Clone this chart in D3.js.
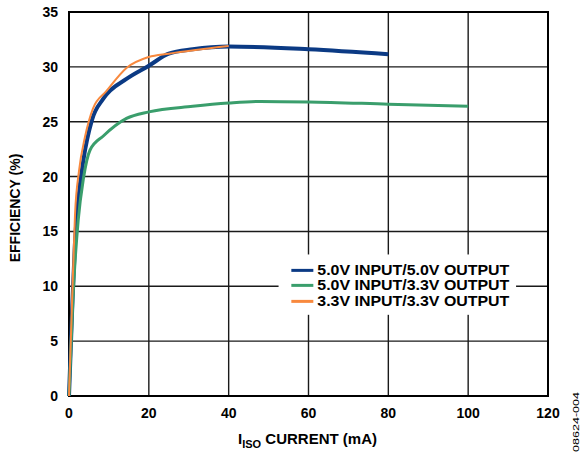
<!DOCTYPE html>
<html>
<head>
<meta charset="utf-8">
<script src="https://cdn.jsdelivr.net/npm/d3@7"></script>
<style>
  body { margin: 0; background: #fff; }
  svg text { font-family: "Liberation Sans", Arial, sans-serif; font-weight: bold; fill: #000; }
</style>
</head>
<body>
<div id="chart"></div>
<script>
// data
var xTicks = [0, 20, 40, 60, 80, 100, 120];
var yTicks = [0, 5, 10, 15, 20, 25, 30, 35];

var seriesNames = ["5.0V INPUT/5.0V OUTPUT", "5.0V INPUT/3.3V OUTPUT", "3.3V INPUT/3.3V OUTPUT"];
var seriesColors = ["#0b3a84", "#3a9e6c", "#f8893e"];
var seriesWidths = [4, 3, 2];

var in5out5 = [[0,0],[0.8,8],[1.5,14],[2.3,17.8],[3.6,21.5],[5.7,25.1],[8.6,27.1],[14.4,28.9],[20,30.1],[25,31.2],[31,31.6],[40,31.85],[60,31.6],[80,31.15]];
var in5out33 = [[0,0],[1,9],[2.3,16],[3.6,19.8],[5.25,22.4],[8.6,23.7],[14.4,25.3],[20,25.9],[31,26.4],[40,26.7],[48,26.85],[60,26.8],[80,26.6],[100,26.4]];
var in33out33 = [[0,0],[0.8,9],[1.5,16.5],[2.5,20.5],[4,23.6],[6,26.2],[9.4,27.8],[14.4,29.9],[20,30.9],[25,31.2],[40,31.9]];

var allSeries = [in5out5, in5out33, in33out33];

var W = 582, H = 455;
var margin = { top: 12, right: 34, bottom: 59, left: 69 };
var width = W - margin.left - margin.right,
    height = H - margin.top - margin.bottom;

var svg = d3.select("#chart").append("svg")
    .attr("width", W)
    .attr("height", H);

var g = svg.append("g")
    .attr("transform", "translate(" + margin.left + "," + margin.top + ")");

var x = d3.scaleLinear().domain([0, 120]).range([0, width]);
var y = d3.scaleLinear().domain([0, 35]).range([height, 0]);

// grid
g.selectAll(".vgrid").data(xTicks.slice(1, -1)).enter().append("line")
    .attr("class", "vgrid")
    .attr("x1", function(d) { return x(d); }).attr("x2", function(d) { return x(d); })
    .attr("y1", 0).attr("y2", height)
    .attr("stroke", "#1a1a1a").attr("stroke-width", 1.4);

g.selectAll(".hgrid").data(yTicks.slice(1, -1)).enter().append("line")
    .attr("class", "hgrid")
    .attr("x1", 0).attr("x2", width)
    .attr("y1", function(d) { return y(d); }).attr("y2", function(d) { return y(d); })
    .attr("stroke", "#1a1a1a").attr("stroke-width", 1.4);

// legend box (white, covers grid)
var legX = x(52.5), legY = y(12.9);
g.append("rect")
    .attr("x", legX).attr("y", legY)
    .attr("width", x(112) - legX).attr("height", y(7.4) - legY)
    .attr("fill", "#fff");

// frame
g.append("rect")
    .attr("width", width).attr("height", height)
    .attr("fill", "none").attr("stroke", "#000").attr("stroke-width", 2);

// curves
var line = d3.line()
    .x(function(d) { return x(d[0]); })
    .y(function(d) { return y(d[1]); })
    .curve(d3.curveMonotoneX);

g.selectAll(".curve").data(allSeries).enter().append("path")
    .attr("class", "curve")
    .attr("d", line)
    .attr("fill", "none")
    .attr("stroke", function(d, i) { return seriesColors[i]; })
    .attr("stroke-width", function(d, i) { return seriesWidths[i]; })
    .attr("stroke-linejoin", "round");

// axes ticks
g.selectAll(".xlab").data(xTicks).enter().append("text")
    .attr("x", function(d) { return x(d); })
    .attr("y", height + 22)
    .attr("text-anchor", "middle")
    .attr("font-size", 14)
    .text(function(d) { return d; });

g.selectAll(".ylab").data(yTicks).enter().append("text")
    .attr("x", -11)
    .attr("y", function(d) { return y(d); })
    .attr("dy", "0.36em")
    .attr("text-anchor", "end")
    .attr("font-size", 14)
    .text(function(d) { return d; });

// axis titles
var xt = g.append("text")
    .attr("x", width / 2 - 1)
    .attr("y", height + 48)
    .attr("text-anchor", "middle")
    .attr("font-size", 15);
xt.append("tspan").text("I");
xt.append("tspan").attr("font-size", 11).attr("dy", 4).text("ISO");
xt.append("tspan").attr("dy", -4).text(" CURRENT (mA)");

g.append("text")
    .attr("transform", "translate(" + (-49) + "," + (height / 2 + 4) + ") rotate(-90)")
    .attr("text-anchor", "middle")
    .attr("font-size", 14)
    .text("EFFICIENCY (%)");

svg.append("text")
    .attr("transform", "translate(579,422) rotate(-90)")
    .attr("text-anchor", "middle")
    .attr("font-size", 8.5)
    .attr("textLength", 60)
    .attr("lengthAdjust", "spacingAndGlyphs")
    .style("font-weight", "normal")
    .text("08624-004");

// legend
var legRows = [0, 15, 31];
var leg = g.selectAll(".leg").data(seriesNames).enter().append("g")
    .attr("class", "leg")
    .attr("transform", function(d, i) { return "translate(" + (x(55.7)) + "," + (y(11.45) + legRows[i]) + ")"; });

leg.append("line")
    .attr("x1", 0).attr("x2", 22)
    .attr("stroke", function(d, i) { return seriesColors[i]; })
    .attr("stroke-width", 3);

leg.append("text")
    .attr("x", 26)
    .attr("dy", "0.36em")
    .attr("font-size", 14)
    .attr("textLength", 192)
    .attr("lengthAdjust", "spacingAndGlyphs")
    .text(function(d) { return d; });
</script>
</body>
</html>
